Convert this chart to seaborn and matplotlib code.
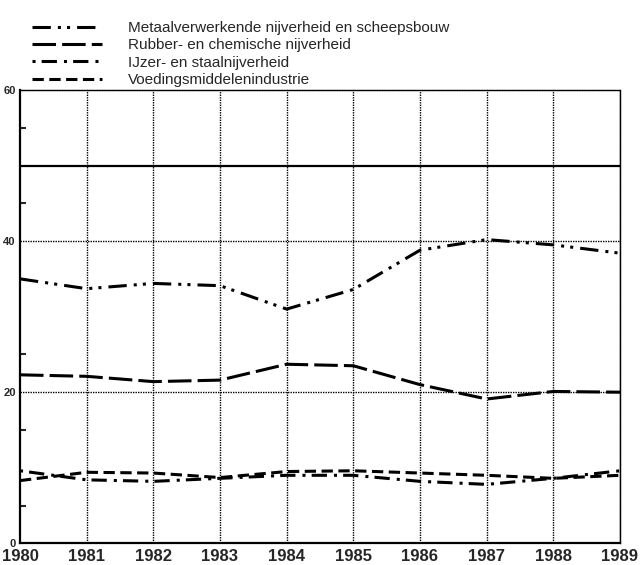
import seaborn as sns
import pandas as pd
import numpy as np
import matplotlib
matplotlib.use("Agg")
import matplotlib.pyplot as plt

jaren = [1980, 1981, 1982, 1983, 1984, 1985, 1986, 1987, 1988, 1989]
sectoren = ["Metaalverwerkende nijverheid en scheepsbouw",
            "Rubber- en chemische nijverheid",
            "IJzer- en staalnijverheid",
            "Voedingsmiddelenindustrie"]
metaal = [35.0, 33.7, 34.4, 34.1, 31.0, 33.6, 38.8, 40.2, 39.5, 38.4]
rubber = [22.3, 22.1, 21.4, 21.6, 23.7, 23.5, 21.0, 19.1, 20.1, 20.0]
ijzer = [9.6, 8.4, 8.2, 8.6, 9.0, 9.0, 8.2, 7.8, 8.6, 9.6]
voeding = [8.3, 9.4, 9.3, 8.7, 9.5, 9.6, 9.3, 9.0, 8.6, 9.0]
y_ticks = [0, 20, 40, 60]
y_minor = [5, 15, 25, 35, 45, 55]

lw = 2.2
# dash patterns in units of linewidth
patronen = {sectoren[0]: (6, 2.3, 1, 2, 1, 2.3),
            sectoren[1]: (7.7, 2.0),
            sectoren[2]: (1, 2, 5, 2.3),
            sectoren[3]: (3.7, 1.8)}

df = pd.DataFrame({
    "jaar": jaren * 4,
    "waarde": metaal + rubber + ijzer + voeding,
    "sector": [s for s in sectoren for _ in jaren],
})

sns.set_style("white")
plt.rcParams["font.family"] = ["Liberation Sans", "DejaVu Sans"]

fig = plt.figure(figsize=(6.41, 5.65), dpi=100)
ax = fig.add_axes([20 / 641, 1 - 543.3 / 565, 600 / 641, (543.3 - 90) / 565])

sns.lineplot(data=df, x="jaar", y="waarde", hue="sector", style="sector",
             hue_order=sectoren, style_order=sectoren,
             palette=["black"] * 4, dashes=patronen, linewidth=lw, ax=ax)

ax.set_xlim(1980, 1989)
ax.set_ylim(0, 60)
ax.set_xlabel("")
ax.set_ylabel("")

# grid
for j in jaren[1:]:
    ax.axvline(j, color="black", lw=1, dashes=(1, 0.8), zorder=0)
for v in [20, 40]:
    ax.axhline(v, color="black", lw=1, dashes=(1, 0.8), zorder=0)
ax.axhline(50, color="black", lw=1.6, zorder=0)

for s in ["left", "bottom"]:
    ax.spines[s].set_linewidth(1.6)
    ax.spines[s].set_color("black")
for s in ["top", "right"]:
    ax.spines[s].set_linewidth(1)
    ax.spines[s].set_linestyle((0, (1, 0.8)))
    ax.spines[s].set_color("black")

ax.set_xticks(jaren)
ax.set_xticklabels([str(j) for j in jaren], fontsize=12, fontweight="bold")
ax.set_yticks(y_ticks)
ax.set_yticklabels([str(v) for v in y_ticks], fontsize=8, fontweight="bold")
ax.set_yticks(y_minor, minor=True)
ax.tick_params(axis="x", length=0, pad=4)
ax.tick_params(axis="y", which="major", length=0, pad=3)
ax.tick_params(axis="y", which="minor", direction="in", length=4, width=1.5, left=True)

leg = ax.get_legend()
handles = leg.legend_handles
labels = [t.get_text() for t in leg.texts]
leg.remove()
for h in handles:
    h.set_linewidth(lw)
fig.legend(handles, labels, loc="upper left",
           bbox_to_anchor=(32 / 641, 1 - 21 / 565), bbox_transform=fig.transFigure,
           frameon=False, handlelength=4.6, handletextpad=1.7,
           labelspacing=0.22, borderpad=0, borderaxespad=0,
           prop={"family": ["Liberation Sans", "DejaVu Sans"], "size": 11})

fig.savefig("out.png", dpi=100)
